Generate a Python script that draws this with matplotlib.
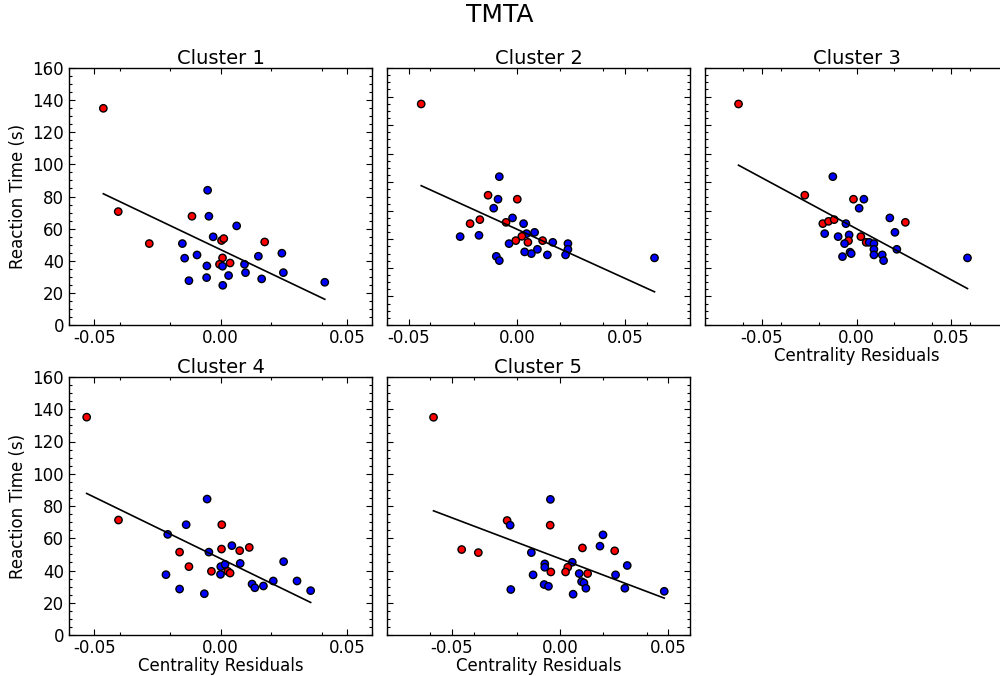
import matplotlib
matplotlib.use("Agg")
import matplotlib.pyplot as plt
import numpy as np
from matplotlib.ticker import MultipleLocator

# residual centrality (x), reaction time (y) and group flag (1 = red) per cluster
c1_x = [-0.0464, -0.0405, -0.0282, -0.0113, -0.0051, -0.0046, 0.0064, -0.0029, 0.0004, 0.0013,
        0.0175, -0.0151, -0.0142, -0.0093, -0.0054, -0.0055, -0.0125, 0.0008, -0.0004, 0.0008,
        0.0038, 0.0032, 0.0009, 0.0095, 0.0099, 0.0150, 0.0163, 0.0243, 0.0249, 0.0413]
c1_y = [134.9, 70.6, 50.7, 67.7, 83.9, 67.7, 61.7, 54.9, 52.6, 53.8,
        51.7, 50.7, 41.6, 43.6, 36.8, 29.5, 27.6, 41.8, 37.8, 36.6,
        38.6, 30.8, 24.7, 37.8, 32.6, 42.8, 28.7, 44.7, 32.6, 26.6]
c1_red = [1, 1, 1, 1, 0, 0, 0, 0, 1, 1,
          1, 0, 0, 0, 0, 0, 0, 1, 1, 0,
          1, 0, 0, 0, 0, 0, 0, 0, 0, 0]

c2_x = [-0.0442, -0.0081, -0.0133, -0.0087, 0.0002, -0.0107, -0.0020, -0.0050, -0.0171, -0.0216,
        0.0031, -0.0262, -0.0175, 0.0045, 0.0082, 0.0023, -0.0005, -0.0036, 0.0051, 0.0119,
        0.0166, 0.0236, 0.0236, 0.0225, 0.0095, 0.0067, 0.0036, 0.0141, -0.0095, -0.0081, 0.0636]
c2_y = [134.8, 83.9, 70.9, 68.1, 68.1, 61.8, 55.0, 51.9, 53.8, 51.0,
        51.0, 41.9, 42.8, 44.0, 44.9, 42.1, 39.1, 37.0, 37.9, 39.1,
        37.9, 37.0, 33.0, 29.1, 33.0, 30.0, 31.2, 29.1, 28.1, 25.1, 27.0]
c2_red = [1, 0, 1, 0, 1, 0, 0, 1, 1, 1,
          0, 0, 0, 0, 0, 1, 1, 0, 1, 1,
          0, 0, 0, 0, 0, 0, 0, 0, 0, 0, 0]

c3_x = [-0.0623, -0.0125, -0.0273, -0.0016, 0.0039, 0.0014, 0.0176, 0.0258, -0.0056, -0.0178,
        -0.0148, -0.0118, -0.0168, -0.0097, -0.0039, 0.0023, 0.0203, -0.0042, -0.0063, 0.0051,
        0.0067, 0.0092, 0.0092, 0.0092, 0.0213, 0.0136, 0.0143, -0.0034, -0.0028, -0.0074, 0.0586]
c3_y = [134.8, 83.9, 70.9, 68.1, 68.1, 61.8, 55.0, 51.9, 51.0, 51.0,
        52.6, 53.8, 44.0, 41.9, 43.1, 41.9, 44.9, 39.1, 37.0, 37.9,
        37.9, 37.0, 33.0, 29.1, 33.0, 29.1, 25.1, 31.0, 30.0, 27.9, 27.0]
c3_red = [1, 0, 1, 1, 0, 0, 0, 1, 0, 1,
          1, 1, 0, 0, 0, 1, 0, 1, 0, 1,
          0, 0, 0, 0, 0, 0, 0, 0, 0, 0, 0]

c4_x = [-0.0530, -0.0404, -0.0209, -0.0136, -0.0053, 0.0005, -0.0046, -0.0162, 0.0004, 0.0045,
        0.0076, 0.0114, -0.0125, -0.0216, -0.0162, -0.0064, -0.0036, 0.0001, 0.0018, 0.0000,
        0.0029, 0.0038, 0.0078, 0.0125, 0.0136, 0.0170, 0.0209, 0.0250, 0.0303, 0.0357]
c4_y = [135.1, 71.3, 62.4, 68.4, 84.3, 68.4, 51.4, 51.4, 53.3, 55.4,
        52.3, 54.3, 42.4, 37.4, 28.5, 25.6, 39.5, 42.4, 43.8, 37.6,
        39.5, 38.4, 44.4, 31.6, 29.3, 30.4, 33.5, 45.5, 33.5, 27.5]
c4_red = [1, 1, 0, 0, 0, 1, 0, 1, 1, 0,
          1, 1, 1, 0, 0, 0, 1, 0, 0, 0,
          1, 1, 0, 0, 0, 0, 0, 0, 0, 0]

c5_x = [-0.0585, -0.0045, -0.0245, -0.0231, -0.0046, 0.0198, 0.0184, 0.0103, 0.0252, -0.0455,
        -0.0378, -0.0133, 0.0056, -0.0071, -0.0071, 0.0035, 0.0025, -0.0043, 0.0127, 0.0088,
        -0.0125, 0.0310, 0.0256, 0.0099, 0.0110, 0.0119, -0.0074, -0.0054, -0.0228, 0.0060,
        0.0299, 0.0481]
c5_y = [135.0, 84.1, 71.0, 68.1, 68.1, 62.1, 55.1, 54.0, 52.2, 53.0,
        51.1, 51.1, 45.1, 44.1, 42.0, 42.0, 39.1, 39.1, 38.1, 38.1,
        37.3, 43.1, 37.3, 33.1, 32.3, 29.0, 31.3, 30.2, 28.2, 25.3,
        29.0, 27.1]
c5_red = [1, 0, 1, 0, 1, 0, 0, 1, 1, 1,
          1, 0, 0, 0, 0, 1, 1, 1, 1, 0,
          0, 0, 0, 0, 0, 0, 0, 0, 0, 0,
          0, 0]

# fitted line (slope, intercept) per cluster
fit_slope = [-749, -689.5, -714.6, -762, -508]
fit_icpt = [46.95, 47.1, 47.4, 47.4, 47.3]

xlims = [(-0.06, 0.06), (-0.06, 0.08), (-0.08, 0.08), (-0.06, 0.06), (-0.08, 0.06)]
ylims = [(0, 160), (-20, 160), (-20, 160), (0, 160), (0, 160)]

xs = [c1_x, c2_x, c3_x, c4_x, c5_x]
ys = [c1_y, c2_y, c3_y, c4_y, c5_y]
reds = [c1_red, c2_red, c3_red, c4_red, c5_red]

fig = plt.figure(figsize=(10, 6.76), dpi=100)
W, H = 1000.0, 676.0
# left, top, right, bottom in pixels
boxes = [(69, 68, 372, 325), (387, 68, 690, 325), (705, 68, 1008, 325),
         (69, 377, 372, 635), (387, 377, 690, 635)]

for i in range(5):
    l, t, r, b = boxes[i]
    ax = fig.add_axes([l / W, 1 - b / H, (r - l) / W, (b - t) / H])
    x = np.array(xs[i])
    y = np.array(ys[i])
    red = np.array(reds[i], dtype=bool)
    cols = np.where(red, "red", "blue")
    ax.scatter(x, y, c=cols, s=28, edgecolors="black", linewidths=1.0, zorder=2)
    xx = np.array([x.min(), x.max()])
    ax.plot(xx, fit_slope[i] * xx + fit_icpt[i], color="black", lw=1.2, zorder=3)

    ax.set_xlim(xlims[i])
    ax.set_ylim(ylims[i])
    ax.xaxis.set_major_locator(MultipleLocator(0.05))
    ax.xaxis.set_minor_locator(MultipleLocator(0.02))
    ax.yaxis.set_major_locator(MultipleLocator(20))
    ax.yaxis.set_minor_locator(MultipleLocator(5))
    ax.tick_params(which="both", direction="in", top=True, right=True, labelsize=12)
    ax.tick_params(which="major", length=4.5, width=0.8)
    ax.tick_params(which="minor", length=2.5, width=0.8)
    ax.tick_params(axis="x", pad=3)
    ax.xaxis.set_major_formatter(plt.FuncFormatter(lambda v, p: "%.2f" % v if abs(v) > 1e-9 else "0.00"))
    ax.set_title("Cluster %d" % (i + 1), fontsize=14, pad=3)
    if i in (0, 3):
        ax.set_ylabel("Reaction Time (s)", fontsize=12)
    else:
        ax.set_yticklabels([])
    if i in (2, 3, 4):
        ax.set_xlabel("Centrality Residuals", fontsize=12, labelpad=0)
    for sp in ax.spines.values():
        sp.set_linewidth(1.0)

fig.suptitle("TMTA", fontsize=18, y=0.995)
fig.savefig("out.png", dpi=100)
